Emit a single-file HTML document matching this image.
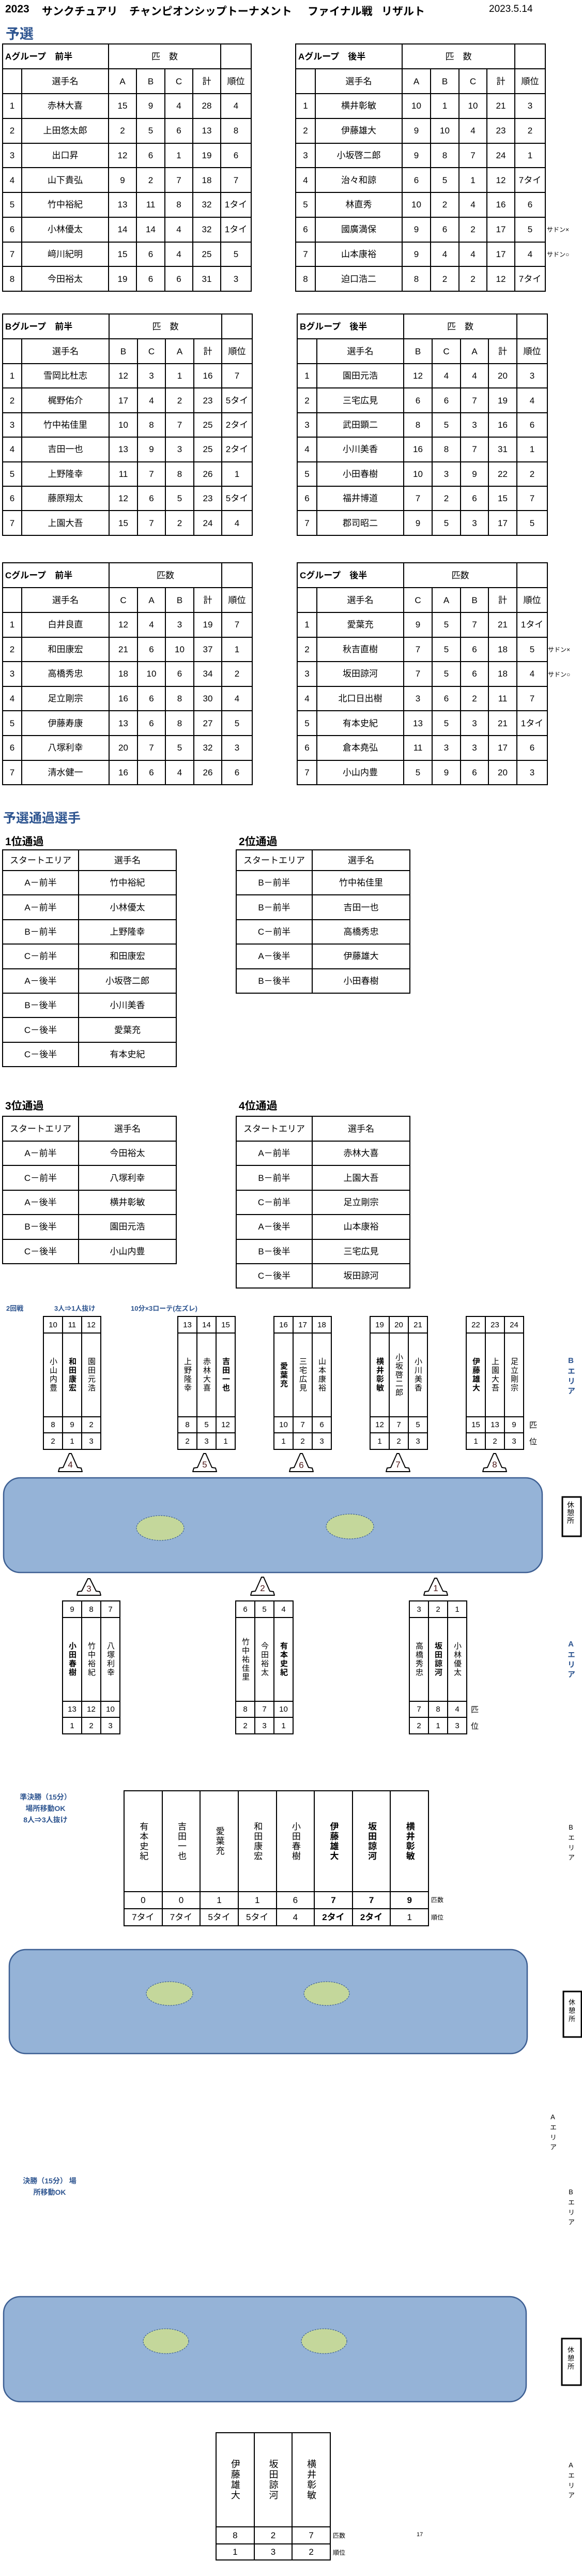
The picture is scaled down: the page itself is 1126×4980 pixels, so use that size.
<!DOCTYPE html>
<html><head><meta charset="utf-8">
<style>
html,body{margin:0;padding:0;background:#fff;}
body{width:1126px;height:4980px;position:relative;overflow:hidden;font-family:"Liberation Sans","Noto Sans CJK JP",sans-serif;color:#000;}
.a{position:absolute;white-space:nowrap;}
.t{position:absolute;border-collapse:collapse;table-layout:fixed;}
.t td{border:2px solid #000;padding:0;text-align:center;font-size:17px;line-height:1;overflow:hidden;white-space:nowrap;}
.t td.l{text-align:left;padding-left:4px;font-weight:bold;font-size:17px;}
.bl{color:#2e5590;font-weight:bold;}
.v{writing-mode:vertical-rl;text-orientation:upright;margin:0 auto;font-size:15px;letter-spacing:2px;line-height:1;}
.b{font-weight:bold;}
.note{font-size:12px;}
.sm td{font-size:15px;}
</style></head><body>

<div class="a" style="left:10px;top:6px;font-size:21px;font-weight:bold;">2023</div>
<div class="a" style="left:81px;top:6px;font-size:21px;font-weight:bold;">サンクチュアリ</div>
<div class="a" style="left:250px;top:6px;font-size:21px;font-weight:bold;">チャンピオンシップトーナメント</div>
<div class="a" style="left:595px;top:6px;font-size:21px;font-weight:bold;">ファイナル戦</div>
<div class="a" style="left:738px;top:6px;font-size:21px;font-weight:bold;">リザルト</div>
<div class="a" style="left:946px;top:7px;font-size:19px;">2023.5.14</div>
<div class="a bl" style="left:11px;top:44px;font-size:27px;">予選</div>

<!-- A front -->
<table class="t" style="left:4px;top:84px;width:481px;">
<colgroup><col style="width:37px"><col style="width:168px"><col style="width:54px"><col style="width:55px"><col style="width:54px"><col style="width:54px"><col style="width:59px"></colgroup>
<tr style="height:48px"><td class="l" colspan="2">Aグループ　前半</td><td colspan="4">匹　数</td><td></td></tr>
<tr style="height:48px"><td></td><td>選手名</td><td>A</td><td>B</td><td>C</td><td>計</td><td>順位</td></tr>
<tr style="height:47.75px"><td>1</td><td>赤林大喜</td><td>15</td><td>9</td><td>4</td><td>28</td><td>4</td></tr>
<tr style="height:47.75px"><td>2</td><td>上田悠太郎</td><td>2</td><td>5</td><td>6</td><td>13</td><td>8</td></tr>
<tr style="height:47.75px"><td>3</td><td>出口昇</td><td>12</td><td>6</td><td>1</td><td>19</td><td>6</td></tr>
<tr style="height:47.75px"><td>4</td><td>山下貴弘</td><td>9</td><td>2</td><td>7</td><td>18</td><td>7</td></tr>
<tr style="height:47.75px"><td>5</td><td>竹中裕紀</td><td>13</td><td>11</td><td>8</td><td>32</td><td>1タイ</td></tr>
<tr style="height:47.75px"><td>6</td><td>小林優太</td><td>14</td><td>14</td><td>4</td><td>32</td><td>1タイ</td></tr>
<tr style="height:47.75px"><td>7</td><td>﨑川紀明</td><td>15</td><td>6</td><td>4</td><td>25</td><td>5</td></tr>
<tr style="height:47.75px"><td>8</td><td>今田裕太</td><td>19</td><td>6</td><td>6</td><td>31</td><td>3</td></tr>
</table>

<!-- A back -->
<table class="t" style="left:571px;top:84px;width:483px;">
<colgroup><col style="width:38px"><col style="width:168px"><col style="width:55px"><col style="width:55px"><col style="width:54px"><col style="width:54px"><col style="width:59px"></colgroup>
<tr style="height:48px"><td class="l" colspan="2">Aグループ　後半</td><td colspan="4">匹　数</td><td></td></tr>
<tr style="height:48px"><td></td><td>選手名</td><td>A</td><td>B</td><td>C</td><td>計</td><td>順位</td></tr>
<tr style="height:47.75px"><td>1</td><td>横井彰敏</td><td>10</td><td>1</td><td>10</td><td>21</td><td>3</td></tr>
<tr style="height:47.75px"><td>2</td><td>伊藤雄大</td><td>9</td><td>10</td><td>4</td><td>23</td><td>2</td></tr>
<tr style="height:47.75px"><td>3</td><td>小坂啓二郎</td><td>9</td><td>8</td><td>7</td><td>24</td><td>1</td></tr>
<tr style="height:47.75px"><td>4</td><td>治々和諒</td><td>6</td><td>5</td><td>1</td><td>12</td><td>7タイ</td></tr>
<tr style="height:47.75px"><td>5</td><td>林直秀</td><td>10</td><td>2</td><td>4</td><td>16</td><td>6</td></tr>
<tr style="height:47.75px"><td>6</td><td>國廣満保</td><td>9</td><td>6</td><td>2</td><td>17</td><td>5</td></tr>
<tr style="height:47.75px"><td>7</td><td>山本康裕</td><td>9</td><td>4</td><td>4</td><td>17</td><td>4</td></tr>
<tr style="height:47.75px"><td>8</td><td>迫口浩二</td><td>8</td><td>2</td><td>2</td><td>12</td><td>7タイ</td></tr>
</table>
<div class="a note" style="left:1058px;top:435px;">サドン×</div>
<div class="a note" style="left:1058px;top:483px;">サドン○</div>

<!-- B front -->
<table class="t" style="left:4px;top:606px;width:483px;">
<colgroup><col style="width:37px"><col style="width:169px"><col style="width:55px"><col style="width:54px"><col style="width:55px"><col style="width:54px"><col style="width:59px"></colgroup>
<tr style="height:48px"><td class="l" colspan="2">Bグループ　前半</td><td colspan="4">匹　数</td><td></td></tr>
<tr style="height:48px"><td></td><td>選手名</td><td>B</td><td>C</td><td>A</td><td>計</td><td>順位</td></tr>
<tr style="height:47.4px"><td>1</td><td>雪岡比杜志</td><td>12</td><td>3</td><td>1</td><td>16</td><td>7</td></tr>
<tr style="height:47.4px"><td>2</td><td>梶野佑介</td><td>17</td><td>4</td><td>2</td><td>23</td><td>5タイ</td></tr>
<tr style="height:47.4px"><td>3</td><td>竹中祐佳里</td><td>10</td><td>8</td><td>7</td><td>25</td><td>2タイ</td></tr>
<tr style="height:47.4px"><td>4</td><td>吉田一也</td><td>13</td><td>9</td><td>3</td><td>25</td><td>2タイ</td></tr>
<tr style="height:47.4px"><td>5</td><td>上野隆幸</td><td>11</td><td>7</td><td>8</td><td>26</td><td>1</td></tr>
<tr style="height:47.4px"><td>6</td><td>藤原翔太</td><td>12</td><td>6</td><td>5</td><td>23</td><td>5タイ</td></tr>
<tr style="height:47.4px"><td>7</td><td>上園大吾</td><td>15</td><td>7</td><td>2</td><td>24</td><td>4</td></tr>
</table>

<!-- B back -->
<table class="t" style="left:574px;top:606px;width:484px;">
<colgroup><col style="width:38px"><col style="width:168px"><col style="width:55px"><col style="width:55px"><col style="width:54px"><col style="width:55px"><col style="width:59px"></colgroup>
<tr style="height:48px"><td class="l" colspan="2">Bグループ　後半</td><td colspan="4">匹　数</td><td></td></tr>
<tr style="height:48px"><td></td><td>選手名</td><td>B</td><td>C</td><td>A</td><td>計</td><td>順位</td></tr>
<tr style="height:47.4px"><td>1</td><td>園田元浩</td><td>12</td><td>4</td><td>4</td><td>20</td><td>3</td></tr>
<tr style="height:47.4px"><td>2</td><td>三宅広見</td><td>6</td><td>6</td><td>7</td><td>19</td><td>4</td></tr>
<tr style="height:47.4px"><td>3</td><td>武田顕二</td><td>8</td><td>5</td><td>3</td><td>16</td><td>6</td></tr>
<tr style="height:47.4px"><td>4</td><td>小川美香</td><td>16</td><td>8</td><td>7</td><td>31</td><td>1</td></tr>
<tr style="height:47.4px"><td>5</td><td>小田春樹</td><td>10</td><td>3</td><td>9</td><td>22</td><td>2</td></tr>
<tr style="height:47.4px"><td>6</td><td>福井博道</td><td>7</td><td>2</td><td>6</td><td>15</td><td>7</td></tr>
<tr style="height:47.4px"><td>7</td><td>郡司昭二</td><td>9</td><td>5</td><td>3</td><td>17</td><td>5</td></tr>
</table>

<!-- C front -->
<table class="t" style="left:4px;top:1087px;width:483px;">
<colgroup><col style="width:37px"><col style="width:169px"><col style="width:55px"><col style="width:54px"><col style="width:55px"><col style="width:54px"><col style="width:59px"></colgroup>
<tr style="height:48px"><td class="l" colspan="2">Cグループ　前半</td><td colspan="4">匹数</td><td></td></tr>
<tr style="height:48px"><td></td><td>選手名</td><td>C</td><td>A</td><td>B</td><td>計</td><td>順位</td></tr>
<tr style="height:47.6px"><td>1</td><td>白井良直</td><td>12</td><td>4</td><td>3</td><td>19</td><td>7</td></tr>
<tr style="height:47.6px"><td>2</td><td>和田康宏</td><td>21</td><td>6</td><td>10</td><td>37</td><td>1</td></tr>
<tr style="height:47.6px"><td>3</td><td>高橋秀忠</td><td>18</td><td>10</td><td>6</td><td>34</td><td>2</td></tr>
<tr style="height:47.6px"><td>4</td><td>足立剛宗</td><td>16</td><td>6</td><td>8</td><td>30</td><td>4</td></tr>
<tr style="height:47.6px"><td>5</td><td>伊藤寿康</td><td>13</td><td>6</td><td>8</td><td>27</td><td>5</td></tr>
<tr style="height:47.6px"><td>6</td><td>八塚利幸</td><td>20</td><td>7</td><td>5</td><td>32</td><td>3</td></tr>
<tr style="height:47.6px"><td>7</td><td>清水健一</td><td>16</td><td>6</td><td>4</td><td>26</td><td>6</td></tr>
</table>

<!-- C back -->
<table class="t" style="left:574px;top:1087px;width:484px;">
<colgroup><col style="width:38px"><col style="width:168px"><col style="width:55px"><col style="width:55px"><col style="width:54px"><col style="width:55px"><col style="width:59px"></colgroup>
<tr style="height:48px"><td class="l" colspan="2">Cグループ　後半</td><td colspan="4">匹数</td><td></td></tr>
<tr style="height:48px"><td></td><td>選手名</td><td>C</td><td>A</td><td>B</td><td>計</td><td>順位</td></tr>
<tr style="height:47.6px"><td>1</td><td>愛葉充</td><td>9</td><td>5</td><td>7</td><td>21</td><td>1タイ</td></tr>
<tr style="height:47.6px"><td>2</td><td>秋吉直樹</td><td>7</td><td>5</td><td>6</td><td>18</td><td>5</td></tr>
<tr style="height:47.6px"><td>3</td><td>坂田諒河</td><td>7</td><td>5</td><td>6</td><td>18</td><td>4</td></tr>
<tr style="height:47.6px"><td>4</td><td>北口日出樹</td><td>3</td><td>6</td><td>2</td><td>11</td><td>7</td></tr>
<tr style="height:47.6px"><td>5</td><td>有本史紀</td><td>13</td><td>5</td><td>3</td><td>21</td><td>1タイ</td></tr>
<tr style="height:47.6px"><td>6</td><td>倉本堯弘</td><td>11</td><td>3</td><td>3</td><td>17</td><td>6</td></tr>
<tr style="height:47.6px"><td>7</td><td>小山内豊</td><td>5</td><td>9</td><td>6</td><td>20</td><td>3</td></tr>
</table>
<div class="a note" style="left:1060px;top:1247px;">サドン×</div>
<div class="a note" style="left:1060px;top:1295px;">サドン○</div>

<div class="a bl" style="left:6px;top:1562px;font-size:25px;">予選通過選手</div>

<div class="a" style="left:10px;top:1611px;font-size:21px;font-weight:bold;">1位通過</div>
<table class="t" style="left:4px;top:1642px;width:336px;">
<colgroup><col style="width:147px"><col style="width:189px"></colgroup>
<tr style="height:40px"><td>スタートエリア</td><td>選手名</td></tr>
<tr style="height:47.4px"><td>A－前半</td><td>竹中裕紀</td></tr>
<tr style="height:47.4px"><td>A－前半</td><td>小林優太</td></tr>
<tr style="height:47.4px"><td>B－前半</td><td>上野隆幸</td></tr>
<tr style="height:47.4px"><td>C－前半</td><td>和田康宏</td></tr>
<tr style="height:47.4px"><td>A－後半</td><td>小坂啓二郎</td></tr>
<tr style="height:47.4px"><td>B－後半</td><td>小川美香</td></tr>
<tr style="height:47.4px"><td>C－後半</td><td>愛葉充</td></tr>
<tr style="height:47.4px"><td>C－後半</td><td>有本史紀</td></tr>
</table>

<div class="a" style="left:462px;top:1611px;font-size:21px;font-weight:bold;">2位通過</div>
<table class="t" style="left:456px;top:1642px;width:336px;">
<colgroup><col style="width:147px"><col style="width:189px"></colgroup>
<tr style="height:40px"><td>スタートエリア</td><td>選手名</td></tr>
<tr style="height:47.4px"><td>B－前半</td><td>竹中祐佳里</td></tr>
<tr style="height:47.4px"><td>B－前半</td><td>吉田一也</td></tr>
<tr style="height:47.4px"><td>C－前半</td><td>高橋秀忠</td></tr>
<tr style="height:47.4px"><td>A－後半</td><td>伊藤雄大</td></tr>
<tr style="height:47.4px"><td>B－後半</td><td>小田春樹</td></tr>
</table>

<div class="a" style="left:10px;top:2122px;font-size:21px;font-weight:bold;">3位通過</div>
<table class="t" style="left:4px;top:2157px;width:336px;">
<colgroup><col style="width:147px"><col style="width:189px"></colgroup>
<tr style="height:48px"><td>スタートエリア</td><td>選手名</td></tr>
<tr style="height:47.4px"><td>A－前半</td><td>今田裕太</td></tr>
<tr style="height:47.4px"><td>C－前半</td><td>八塚利幸</td></tr>
<tr style="height:47.4px"><td>A－後半</td><td>横井彰敏</td></tr>
<tr style="height:47.4px"><td>B－後半</td><td>園田元浩</td></tr>
<tr style="height:47.4px"><td>C－後半</td><td>小山内豊</td></tr>
</table>

<div class="a" style="left:462px;top:2122px;font-size:21px;font-weight:bold;">4位通過</div>
<table class="t" style="left:456px;top:2157px;width:336px;">
<colgroup><col style="width:147px"><col style="width:189px"></colgroup>
<tr style="height:48px"><td>スタートエリア</td><td>選手名</td></tr>
<tr style="height:47.4px"><td>A－前半</td><td>赤林大喜</td></tr>
<tr style="height:47.4px"><td>B－前半</td><td>上園大吾</td></tr>
<tr style="height:47.4px"><td>C－前半</td><td>足立剛宗</td></tr>
<tr style="height:47.4px"><td>A－後半</td><td>山本康裕</td></tr>
<tr style="height:47.4px"><td>B－後半</td><td>三宅広見</td></tr>
<tr style="height:47.4px"><td>C－後半</td><td>坂田諒河</td></tr>
</table>

<div class="a bl" style="left:12px;top:2519px;font-size:13px;">2回戦</div>
<div class="a bl" style="left:105px;top:2519px;font-size:13px;">3人⇒1人抜け</div>
<div class="a bl" style="left:253px;top:2519px;font-size:13px;">10分×3ローテ(左ズレ)</div>

<!-- shapes -->
<svg class="a" style="left:0;top:0;" width="1126" height="4980" xmlns="http://www.w3.org/2000/svg">
<g fill="#95b3d7" stroke="#3d5f93" stroke-width="2.5">
<rect x="7" y="2857" width="1042" height="183" rx="32" ry="32"/>
<rect x="18" y="3769" width="1002" height="201" rx="32" ry="32"/>
<rect x="7" y="4440" width="1011" height="203" rx="32" ry="32"/>
</g>
<g fill="#c4d79b" stroke="#3d5f93" stroke-width="1.2" stroke-dasharray="3,2">
<ellipse cx="310" cy="2954" rx="46" ry="24"/>
<ellipse cx="677" cy="2951" rx="46" ry="24"/>
<ellipse cx="328" cy="3854" rx="45" ry="23"/>
<ellipse cx="632" cy="3854" rx="44" ry="23"/>
<ellipse cx="321" cy="4526" rx="44" ry="24"/>
<ellipse cx="627" cy="4526" rx="44" ry="24"/>
</g>
<g fill="#fff" stroke="#000" stroke-width="2" stroke-linejoin="round">
<polygon points="134,2810 138,2810 150,2837 157,2838 159,2845 113,2845 115,2838 122,2837"/>
<polygon points="394,2810 398,2810 410,2837 417,2838 419,2845 373,2845 375,2838 382,2837"/>
<polygon points="581,2810 585,2810 597,2837 604,2838 606,2845 560,2845 562,2838 569,2837"/>
<polygon points="768,2810 772,2810 784,2837 791,2838 793,2845 747,2845 749,2838 756,2837"/>
<polygon points="955,2810 959,2810 971,2837 978,2838 980,2845 934,2845 936,2838 943,2837"/>
<polygon points="170,3052 174,3052 186,3076 193,3077 195,3084 149,3084 151,3077 158,3076"/>
<polygon points="506,3049 510,3049 522,3076 529,3077 531,3084 485,3084 487,3077 494,3076"/>
<polygon points="841,3051 845,3051 857,3076 864,3077 866,3084 820,3084 822,3077 829,3076"/>
</g>
<g font-family="Liberation Sans, sans-serif" font-size="17" fill="#4a1414" text-anchor="middle">
<text x="136" y="2837">4</text><text x="396" y="2837">5</text><text x="583" y="2838">6</text>
<text x="770" y="2837">7</text><text x="957" y="2837">8</text>
<text x="172" y="3077">3</text><text x="508" y="3076">2</text><text x="843" y="3076">1</text>
</g>
<g fill="#fff" stroke="#000" stroke-width="3">
<rect x="1088" y="2894" width="36" height="76"/>
<rect x="1090" y="3850" width="35" height="88"/>
<rect x="1087" y="4521" width="37" height="90"/>
</g>
</svg>
<div class="a v" style="left:1097px;top:2902px;font-size:14px;letter-spacing:1px;">休憩所</div>
<div class="a v" style="left:1099px;top:3864px;font-size:13px;letter-spacing:3px;">休憩所</div>
<div class="a v" style="left:1097px;top:4536px;font-size:13px;letter-spacing:3px;">休憩所</div>

<div class="a v bl" style="left:1097px;top:2622px;font-size:15px;letter-spacing:4px;">Bエリア</div>
<div class="a v bl" style="left:1097px;top:3170px;font-size:15px;letter-spacing:4px;">Aエリア</div>
<div class="a v" style="left:1098px;top:3525px;font-size:13px;letter-spacing:6px;">Bエリア</div>
<div class="a v" style="left:1063px;top:4085px;font-size:13px;letter-spacing:6px;">Aエリア</div>
<div class="a v" style="left:1098px;top:4230px;font-size:13px;letter-spacing:6px;">Bエリア</div>
<div class="a v" style="left:1098px;top:4758px;font-size:13px;letter-spacing:6px;">Aエリア</div>

<!-- Bracket top groups -->
<table class="t sm" style="left:83px;top:2544px;width:111px;">
<colgroup><col style="width:37px"><col style="width:37px"><col style="width:37px"></colgroup>
<tr style="height:32px"><td>10</td><td>11</td><td>12</td></tr>
<tr style="height:162px"><td><div class="v">小山内豊</div></td><td><div class="v b">和田康宏</div></td><td><div class="v">園田元浩</div></td></tr>
<tr style="height:31px"><td>8</td><td>9</td><td>2</td></tr>
<tr style="height:32px"><td>2</td><td>1</td><td>3</td></tr>
</table>
<table class="t sm" style="left:343px;top:2544px;width:111px;">
<colgroup><col style="width:37px"><col style="width:37px"><col style="width:37px"></colgroup>
<tr style="height:32px"><td>13</td><td>14</td><td>15</td></tr>
<tr style="height:162px"><td><div class="v">上野隆幸</div></td><td><div class="v">赤林大喜</div></td><td><div class="v b">吉田一也</div></td></tr>
<tr style="height:31px"><td>8</td><td>5</td><td>12</td></tr>
<tr style="height:32px"><td>2</td><td>3</td><td>1</td></tr>
</table>
<table class="t sm" style="left:529px;top:2544px;width:111px;">
<colgroup><col style="width:37px"><col style="width:37px"><col style="width:37px"></colgroup>
<tr style="height:32px"><td>16</td><td>17</td><td>18</td></tr>
<tr style="height:162px"><td><div class="v b">愛葉充</div></td><td><div class="v">三宅広見</div></td><td><div class="v">山本康裕</div></td></tr>
<tr style="height:31px"><td>10</td><td>7</td><td>6</td></tr>
<tr style="height:32px"><td>1</td><td>2</td><td>3</td></tr>
</table>
<table class="t sm" style="left:715px;top:2544px;width:111px;">
<colgroup><col style="width:37px"><col style="width:37px"><col style="width:37px"></colgroup>
<tr style="height:32px"><td>19</td><td>20</td><td>21</td></tr>
<tr style="height:162px"><td><div class="v b">横井彰敏</div></td><td><div class="v">小坂啓二郎</div></td><td><div class="v">小川美香</div></td></tr>
<tr style="height:31px"><td>12</td><td>7</td><td>5</td></tr>
<tr style="height:32px"><td>1</td><td>2</td><td>3</td></tr>
</table>
<table class="t sm" style="left:901px;top:2544px;width:111px;">
<colgroup><col style="width:37px"><col style="width:37px"><col style="width:37px"></colgroup>
<tr style="height:32px"><td>22</td><td>23</td><td>24</td></tr>
<tr style="height:162px"><td><div class="v b">伊藤雄大</div></td><td><div class="v">上園大吾</div></td><td><div class="v">足立剛宗</div></td></tr>
<tr style="height:31px"><td>15</td><td>13</td><td>9</td></tr>
<tr style="height:32px"><td>1</td><td>2</td><td>3</td></tr>
</table>
<div class="a" style="left:1024px;top:2744px;font-size:15px;">匹</div>
<div class="a" style="left:1024px;top:2776px;font-size:15px;">位</div>

<!-- Bracket bottom groups -->
<table class="t sm" style="left:120px;top:3094px;width:111px;">
<colgroup><col style="width:37px"><col style="width:37px"><col style="width:37px"></colgroup>
<tr style="height:32px"><td>9</td><td>8</td><td>7</td></tr>
<tr style="height:162px"><td><div class="v b">小田春樹</div></td><td><div class="v">竹中裕紀</div></td><td><div class="v">八塚利幸</div></td></tr>
<tr style="height:31px"><td>13</td><td>12</td><td>10</td></tr>
<tr style="height:32px"><td>1</td><td>2</td><td>3</td></tr>
</table>
<table class="t sm" style="left:455px;top:3094px;width:111px;">
<colgroup><col style="width:37px"><col style="width:37px"><col style="width:37px"></colgroup>
<tr style="height:32px"><td>6</td><td>5</td><td>4</td></tr>
<tr style="height:162px"><td><div class="v">竹中祐佳里</div></td><td><div class="v">今田裕太</div></td><td><div class="v b">有本史紀</div></td></tr>
<tr style="height:31px"><td>8</td><td>7</td><td>10</td></tr>
<tr style="height:32px"><td>2</td><td>3</td><td>1</td></tr>
</table>
<table class="t sm" style="left:791px;top:3094px;width:111px;">
<colgroup><col style="width:37px"><col style="width:37px"><col style="width:37px"></colgroup>
<tr style="height:32px"><td>3</td><td>2</td><td>1</td></tr>
<tr style="height:162px"><td><div class="v">高橋秀忠</div></td><td><div class="v b">坂田諒河</div></td><td><div class="v">小林優太</div></td></tr>
<tr style="height:31px"><td>7</td><td>8</td><td>4</td></tr>
<tr style="height:32px"><td>2</td><td>1</td><td>3</td></tr>
</table>
<div class="a" style="left:911px;top:3294px;font-size:15px;">匹</div>
<div class="a" style="left:911px;top:3326px;font-size:15px;">位</div>

<!-- Semi final -->
<div class="a bl" style="left:22px;top:3463px;font-size:14px;line-height:22px;text-align:center;width:132px;">準決勝（15分）<br>場所移動OK<br>8人⇒3人抜け</div>
<table class="t" style="left:239px;top:3461px;width:591px;">
<colgroup><col><col><col><col><col><col><col><col></colgroup>
<tr style="height:195px"><td><div class="v" style="font-size:17px;">有本史紀</div></td><td><div class="v" style="font-size:17px;">吉田一也</div></td><td><div class="v" style="font-size:17px;">愛葉充</div></td><td><div class="v" style="font-size:17px;">和田康宏</div></td><td><div class="v" style="font-size:17px;">小田春樹</div></td><td><div class="v b" style="font-size:17px;">伊藤雄大</div></td><td><div class="v b" style="font-size:17px;">坂田諒河</div></td><td><div class="v b" style="font-size:17px;">横井彰敏</div></td></tr>
<tr style="height:33px"><td>0</td><td>0</td><td>1</td><td>1</td><td>6</td><td class="b">7</td><td class="b">7</td><td class="b">9</td></tr>
<tr style="height:33px"><td>7タイ</td><td>7タイ</td><td>5タイ</td><td>5タイ</td><td>4</td><td class="b">2タイ</td><td class="b">2タイ</td><td>1</td></tr>
</table>
<div class="a" style="left:834px;top:3664px;font-size:12px;">匹数</div>
<div class="a" style="left:834px;top:3698px;font-size:12px;">順位</div>

<!-- Final -->
<div class="a bl" style="left:22px;top:4205px;font-size:14px;line-height:22px;text-align:center;width:148px;">決勝（15分） 場<br>所移動OK</div>
<table class="t" style="left:417px;top:4702px;width:223px;">
<colgroup><col><col><col></colgroup>
<tr style="height:182px"><td><div class="v" style="font-size:18px;">伊藤雄大</div></td><td><div class="v" style="font-size:18px;">坂田諒河</div></td><td><div class="v" style="font-size:18px;">横井彰敏</div></td></tr>
<tr style="height:33px"><td>8</td><td>2</td><td>7</td></tr>
<tr style="height:31px"><td>1</td><td>3</td><td>2</td></tr>
</table>
<div class="a" style="left:644px;top:4893px;font-size:12px;">匹数</div>
<div class="a" style="left:644px;top:4926px;font-size:12px;">順位</div>
<div class="a" style="left:806px;top:4894px;font-size:11px;">17</div>

</body></html>
